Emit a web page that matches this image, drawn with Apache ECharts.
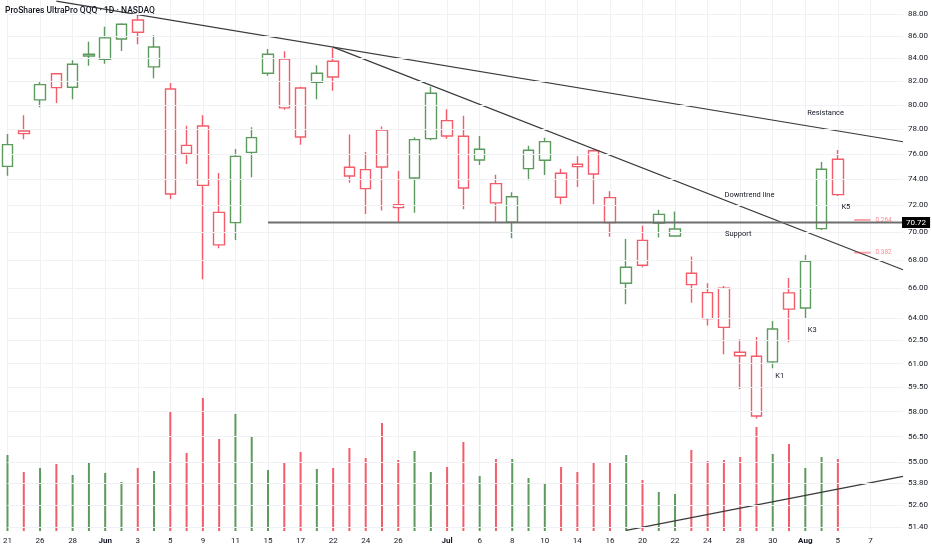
<!DOCTYPE html>
<html><head><meta charset="utf-8">
<script src="https://cdn.jsdelivr.net/npm/echarts@6/dist/echarts.min.js"></script>
<style>html,body{margin:0;padding:0;background:#fff}#c{width:932px;height:550px}</style>
</head><body><div id="c"></div>
<script>
const categories = ['May 21','May 22','May 26','May 27','May 28','May 29','Jun 1','Jun 2','Jun 3','Jun 4','Jun 5','Jun 8','Jun 9','Jun 10','Jun 11','Jun 12','Jun 15','Jun 16','Jun 17','Jun 18','Jun 22','Jun 23','Jun 24','Jun 25','Jun 26','Jun 29','Jun 30','Jul 1','Jul 2','Jul 6','Jul 7','Jul 8','Jul 9','Jul 10','Jul 13','Jul 14','Jul 15','Jul 16','Jul 17','Jul 20','Jul 21','Jul 22','Jul 23','Jul 24','Jul 27','Jul 28','Jul 29','Jul 30','Jul 31','Aug 3','Aug 4','Aug 5','Aug 6','Aug 7','Aug 10','Aug 11'];
// [open, close, low, high]
const ohlc = [
 [75.01,76.74,74.28,77.60],[77.84,77.63,77.17,79.14],[80.42,81.72,79.80,82.03],[82.66,81.46,80.16,82.70],
 [81.49,83.48,80.47,83.83],[84.21,84.36,83.35,85.48],[83.92,85.82,83.53,86.84],[85.72,87.06,84.65,87.15],
 [87.45,86.33,85.25,88.00],[83.25,85.01,82.26,86.06],[81.35,72.87,72.49,81.86],[76.68,76.04,75.20,78.28],
 [78.25,73.53,66.63,79.14],[71.48,69.08,68.84,74.49],[70.71,75.80,69.44,76.38],[76.12,77.30,74.16,78.14],
 [82.70,84.36,82.49,84.83],[83.94,79.75,79.60,84.63],[81.43,77.35,76.73,81.54],[81.92,82.70,80.47,83.40],
 [83.74,82.38,81.20,84.95],[74.94,74.26,73.74,77.55],[74.75,73.28,71.36,76.15],[77.92,74.96,71.61,78.20],
 [72.05,71.83,70.71,74.65],[74.10,77.14,71.45,77.33],[77.22,80.98,77.10,81.54],[78.69,77.44,77.22,79.63],
 [77.42,73.33,71.71,79.10],[75.51,76.37,75.12,77.44],[73.66,72.19,70.71,74.36],[70.74,72.66,69.56,73.00],
 [74.83,76.29,73.92,76.65],[75.49,76.98,74.33,77.30],[74.47,72.62,72.09,74.83],[75.17,74.99,73.41,75.80],
 [76.25,74.41,72.09,76.37],[72.59,70.71,69.68,73.07],[66.36,67.48,64.92,69.51],[69.41,67.62,67.48,70.49],
 [70.69,71.33,69.61,71.68],[69.73,70.24,69.70,71.54],[67.06,66.26,65.01,68.24],[65.71,63.94,63.48,66.36],
 [66.01,63.36,61.60,66.17],[61.73,61.50,59.38,62.58],[61.47,57.74,57.58,62.73],[61.11,63.25,60.70,63.79],
 [65.69,64.58,62.38,66.73],[64.66,67.91,63.94,68.36],[70.27,74.78,70.17,75.35],[75.57,72.82,72.72,76.31]
];
// volume in millions
const volume = [38,29.5,31.5,33.5,28,34.5,29,24.5,31.5,30,59.5,39,66.5,46,58.5,47.5,30.5,34,39.5,31,
 31.5,41.5,36.5,54,35.5,40,29.5,32,44.5,27.5,36,36,26.5,23.5,32,29.5,34.5,34,38,25.5,19.5,18.5,40.5,35,35.5,37,52,38.5,43.5,31.5,37,36];
const tickIndex = [0,2,4,6,8,10,12,14,16,18,20,22,24,27,29,31,33,35,37,39,41,43,45,47,49,51,53];
const tickText = ['21','26','28','Jun','3','5','9','11','15','17','22','24','26','Jul','6','8','10','14','16','20','22','24','28','30','Aug','5','7'];
const yTicks = [88,86,84,82,80,78,76,74,72,70,68,66,64,62.5,61,59.5,58,56.5,55,53.8,52.6,51.4];
const lastPrice = 70.72;
const resistance = [[3,89.20],[55,76.97]];
const downtrend = [[20,85.0],[55,67.30]];
const support = [[16,70.72],[55,70.72]];
const volTrend = [[38,0.3],[55,27.3]];
const fibNames = ['0.264','0.382'];
const fibPrices = [70.91,68.52];
const notes = [['K5',51,71.9],['K3',49,63.19],['K1',47,60.22],['Resistance',50,79.33],['Downtrend line',46,72.80],['Support',45,69.87]];
const noteOffsets = [[8,0],[7,0],[7,0],[4,0],[-7,0],[-2,0]];

const UP = '#5d9a5d', DOWN = '#f45c6a';
const FONT = 'Roboto, "Liberation Sans", sans-serif';
const TXT = '#131722';
const chart = echarts.init(document.getElementById('c'), null, {renderer:'canvas'});
const months = ['Jun','Jul','Aug'];
const lineStyleT = {color:'#3a3a3a', width:1.2};

const series = [
 { type:'line', data:[], z:1, silent:true,
   markLine:{ silent:true, symbol:'none', animation:false,
     data: yTicks.map(v=>({yAxis:v, lineStyle:{color:'#f0f1f4',width:1,type:'solid'},
        label:{show:true, position:'end', distance:5, formatter:v.toFixed(2), color:TXT, fontSize:8, fontFamily:FONT}}))
   }
 },
 { type:'line', data:[], z:6, silent:true,
   markLine:{ silent:true, symbol:'none', animation:false,
     data: [{yAxis:lastPrice, lineStyle:{color:'rgba(0,0,0,0)', width:1},
        label:{show:true, position:'end', distance:-1, formatter:lastPrice.toFixed(2), color:'#ffffff', backgroundColor:'#000000', padding:[2,4,1,4], fontSize:8, fontFamily:FONT}}]
   }
 },
 { type:'bar', yAxisIndex:1, barWidth:2, z:2, clip:false,
   data: volume.map((v,i)=>({value:v, itemStyle:{color: ohlc[i][1]>=ohlc[i][0]?UP:DOWN}})) },
 { type:'candlestick', z:3, clip:false, barWidth:11,
   data: ohlc,
   itemStyle:{color:'#ffffff', color0:'#ffffff', borderColor:UP, borderColor0:DOWN, borderWidth:1.4},
   markPoint:{ symbol:'rect', symbolSize:[1,1], silent:true, animation:false,
     itemStyle:{color:'transparent'},
     data: notes.map((n,i)=>({name:n[0], coord:[n[1], n[2]],
       label:{show:true, position:'inside', formatter:'{b}', color:TXT, fontSize:7.5, fontFamily:FONT, offset:noteOffsets[i]}}))
   }
 },
 { type:'line', data:resistance, symbol:'none', z:4, lineStyle:lineStyleT, silent:true },
 { type:'line', data:downtrend, symbol:'none', z:4, lineStyle:lineStyleT, silent:true },
 { type:'line', data:support, symbol:'none', z:4, lineStyle:{color:'#6e6e6e', width:2}, silent:true },
 { type:'line', yAxisIndex:1, data:volTrend, symbol:'none', z:4, lineStyle:lineStyleT, silent:true }
];
fibNames.forEach((nm,i)=>{
 series.push({ type:'line', name:nm, data:[[52,fibPrices[i]],[53,fibPrices[i]]], symbol:'none', z:4, silent:true,
   lineStyle:{color:'rgba(242,54,69,0.45)', width:2},
   endLabel:{show:true, formatter:nm, color:'rgba(242,54,69,0.6)', fontSize:6.5, fontFamily:FONT, distance:5} });
});

chart.setOption({
 animation:false,
 backgroundColor:'#ffffff',
 title:{ text:'ProShares UltraPro QQQ · 1D · NASDAQ', left:5, top:6, padding:0,
   textStyle:{fontSize:8.5, fontWeight:500, color:TXT, fontFamily:FONT} },
 grid:{ left:7, right:29, top:0, bottom:19, containLabel:false },
 xAxis:{ type:'category', data:categories, boundaryGap:false,
   axisLine:{show:false}, axisTick:{show:false},
   axisLabel:{ interval:0, margin:6, color:TXT, fontSize:8, fontFamily:FONT,
     formatter:(v,idx)=>{ const k=tickIndex.indexOf(idx); if(k<0) return ''; const t=tickText[k]; return months.includes(t)?'{b|'+t+'}':t; },
     rich:{ b:{fontWeight:'bold', fontSize:8, color:TXT, fontFamily:FONT} } },
   splitLine:{ show:true, interval:(idx)=>tickIndex.indexOf(idx)>=0, lineStyle:{color:'#f0f1f4', width:1} } },
 yAxis:[
  { type:'log', logBase:10, min:51.18, max:89.30, show:true,
    axisLine:{show:false}, axisTick:{show:false}, axisLabel:{show:false}, splitLine:{show:false} },
  { type:'value', min:0, max:265.5, show:false, splitLine:{show:false} }
 ],
 series: series
});
</script></body></html>
